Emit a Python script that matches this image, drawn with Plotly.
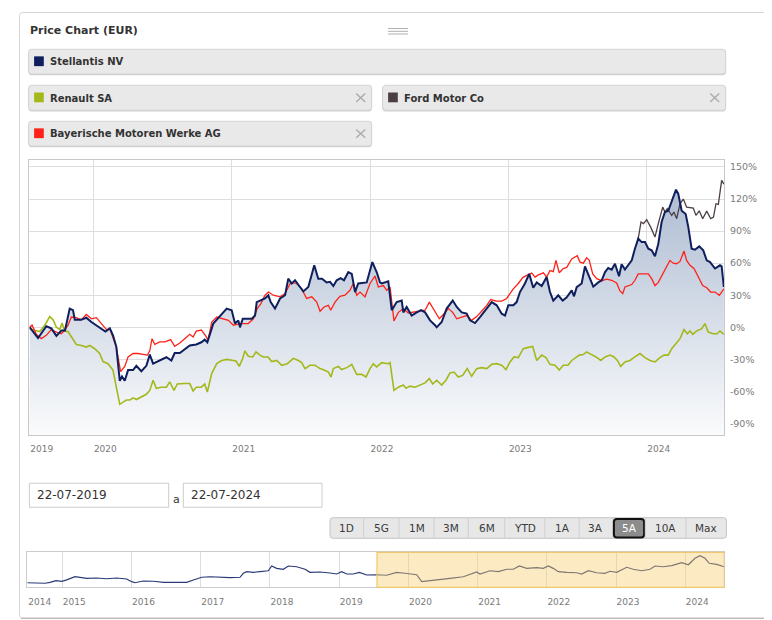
import plotly.graph_objects as go

# ---------------- data ----------------
x_ticks = [2019.54, 2020, 2021, 2022, 2023, 2024]
x_tick_labels = ["2019", "2020", "2021", "2022", "2023", "2024"]
y_ticks = [-90, -60, -30, 0, 30, 60, 90, 120, 150]
y_tick_labels = ["-90%", "-60%", "-30%", "0%", "30%", "60%", "90%", "120%", "150%"]
nav_ticks = [2014.5, 2015, 2016, 2017, 2018, 2019, 2020, 2021, 2022, 2023, 2024]
nav_tick_labels = ["2014", "2015", "2016", "2017", "2018", "2019", "2020", "2021", "2022", "2023", "2024"]

series_names = ["Stellantis NV", "Renault SA", "Ford Motor Co", "Bayerische Motoren Werke AG"]
series_colors = ["#0f1f5e", "#a4b81c", "#4c3f42", "#ff2218"]
range_buttons = ["1D", "5G", "1M", "3M", "6M", "YTD", "1A", "3A", "5A", "10A", "Max"]
date_from = "22-07-2019"
date_to = "22-07-2024"

stla_t = [2019.540, 2019.564, 2019.600, 2019.660, 2019.696, 2019.733, 2019.769, 2019.795, 2019.812, 2019.829,
          2019.853, 2019.866, 2019.911, 2019.949, 2019.986, 2020.022, 2020.058, 2020.087, 2020.119, 2020.142,
          2020.166, 2020.191, 2020.207, 2020.227, 2020.251, 2020.287, 2020.311, 2020.347, 2020.383, 2020.408,
          2020.432, 2020.480, 2020.528, 2020.564, 2020.588, 2020.625, 2020.648, 2020.697, 2020.744, 2020.781,
          2020.805, 2020.824, 2020.867, 2020.904, 2020.964, 2021.000, 2021.024, 2021.048, 2021.060, 2021.080,
          2021.145, 2021.169, 2021.181, 2021.205, 2021.241, 2021.265, 2021.282, 2021.313, 2021.350, 2021.386,
          2021.409, 2021.434, 2021.458, 2021.494, 2021.518, 2021.554, 2021.597, 2021.626, 2021.653, 2021.687,
          2021.711, 2021.735, 2021.759, 2021.788, 2021.812, 2021.843, 2021.868, 2021.892, 2021.915, 2021.976,
          2022.017, 2022.048, 2022.072, 2022.085, 2022.132, 2022.157, 2022.193, 2022.229, 2022.241, 2022.265,
          2022.301, 2022.338, 2022.369, 2022.398, 2022.434, 2022.470, 2022.482, 2022.518, 2022.554, 2022.598,
          2022.627, 2022.663, 2022.699, 2022.723, 2022.759, 2022.795, 2022.844, 2022.880, 2022.916, 2022.952,
          2022.976, 2023.000, 2023.036, 2023.060, 2023.084, 2023.120, 2023.151, 2023.180, 2023.205, 2023.241,
          2023.277, 2023.301, 2023.325, 2023.361, 2023.393, 2023.422, 2023.458, 2023.475, 2023.494, 2023.530,
          2023.554, 2023.590, 2023.614, 2023.650, 2023.675, 2023.699, 2023.722, 2023.747, 2023.771, 2023.800,
          2023.819, 2023.843, 2023.867, 2023.892, 2023.915, 2023.939, 2023.964, 2023.988, 2024.012, 2024.036,
          2024.060, 2024.084, 2024.108, 2024.132, 2024.156, 2024.181, 2024.212, 2024.228, 2024.253, 2024.282,
          2024.301, 2024.325, 2024.349, 2024.380, 2024.409, 2024.434, 2024.458, 2024.494, 2024.530, 2024.542,
          2024.558]
stla_v = [0, -4, -10, 1, -1, -8, -3, -3, 6.5, 17.5,
          16, 7, 7, 9, 5, 2, -1, -4, -1, -7.5,
          -18, -50, -46, -50, -40, -40, -36, -41, -36, -25.5,
          -34, -31, -28, -31, -24, -24, -21.5, -17, -16, -14,
          -11.5, -14, 3.5, 8.7, 17.5, 16, 3.5, 6.5, 0, 8,
          8, 11, 23.6, 25, 27, 30, 23.6, 17.5, 27, 30,
          45.5, 41, 44, 37.7, 33.6, 37.7, 58, 45.5, 45.5, 42,
          42.5, 38.6, 44, 46, 44, 51.7, 50, 33, 41, 42,
          61, 51.7, 42, 41, 43, 16, 23.6, 25, 14, 19,
          11, 14, 16, 14, 6.5, 2, 0, 5, 17.5, 25,
          19, 14, 12.8, 6.5, 4, 9.6, 17.5, 23.6, 20.6, 12.8,
          11, 20.6, 20.6, 23.6, 33, 41, 50, 37, 42, 38.6,
          47, 33, 25, 30, 25, 28, 34.6, 29, 37.5, 41,
          57, 45.5, 38, 42, 44, 51.7, 55.5, 54, 59.5, 47.7,
          59, 54, 58, 62.6, 73.5, 83, 79.7, 79.7, 73.5, 72,
          66.4, 78, 98.5, 107.8, 109, 117, 128.7, 125, 109, 106,
          93.7, 73.5, 72.6, 75.7, 72, 62.6, 61, 55, 58, 57,
          37.7]

ren_t = [2019.540, 2019.576, 2019.613, 2019.649, 2019.685, 2019.709, 2019.733, 2019.757, 2019.774, 2019.793,
         2019.817, 2019.853, 2019.877, 2019.913, 2019.949, 2019.974, 2020.010, 2020.046, 2020.070, 2020.106,
         2020.142, 2020.166, 2020.191, 2020.215, 2020.239, 2020.265, 2020.287, 2020.311, 2020.347, 2020.383,
         2020.408, 2020.432, 2020.455, 2020.492, 2020.528, 2020.552, 2020.583, 2020.607, 2020.661, 2020.697,
         2020.721, 2020.744, 2020.781, 2020.805, 2020.824, 2020.856, 2020.892, 2020.928, 2020.964, 2021.000,
         2021.031, 2021.055, 2021.080, 2021.096, 2021.120, 2021.152, 2021.176, 2021.205, 2021.229, 2021.263,
         2021.289, 2021.326, 2021.362, 2021.402, 2021.446, 2021.482, 2021.506, 2021.530, 2021.566, 2021.602,
         2021.639, 2021.668, 2021.699, 2021.718, 2021.735, 2021.771, 2021.795, 2021.832, 2021.868, 2021.904,
         2021.940, 2021.971, 2022.000, 2022.024, 2022.048, 2022.085, 2022.132, 2022.145, 2022.173, 2022.205,
         2022.241, 2022.260, 2022.289, 2022.325, 2022.361, 2022.398, 2022.429, 2022.453, 2022.482, 2022.518,
         2022.549, 2022.578, 2022.607, 2022.638, 2022.670, 2022.703, 2022.735, 2022.771, 2022.807, 2022.844,
         2022.880, 2022.916, 2022.952, 2022.983, 2023.012, 2023.041, 2023.072, 2023.108, 2023.137, 2023.176,
         2023.205, 2023.241, 2023.272, 2023.301, 2023.337, 2023.368, 2023.397, 2023.431, 2023.458, 2023.482,
         2023.513, 2023.542, 2023.566, 2023.602, 2023.634, 2023.668, 2023.699, 2023.735, 2023.764, 2023.788,
         2023.812, 2023.843, 2023.879, 2023.915, 2023.952, 2023.988, 2024.024, 2024.060, 2024.096, 2024.125,
         2024.156, 2024.181, 2024.217, 2024.241, 2024.270, 2024.294, 2024.313, 2024.333, 2024.361, 2024.398,
         2024.421, 2024.445, 2024.481, 2024.508, 2024.530, 2024.558]
ren_v = [-1, -3, -4, 2, 10, 7, 0, -2, 4, -3.5,
         -4, -12, -16, -17, -18.5, -17, -20, -24.5, -32, -34,
         -40, -56, -72, -70, -68, -68, -66, -67.5, -65, -62.6,
         -59, -49.5, -57, -56, -56, -51, -59, -53, -52.6, -52.6,
         -59.5, -56, -56, -53, -60.5, -43, -34, -31, -30, -31,
         -31.5, -36.5, -29, -22, -27, -27.7, -23, -26, -27.7, -27.7,
         -32, -31, -35.5, -34, -29, -31, -33, -38.6, -35.5, -35.5,
         -38.6, -40, -41.8, -46.5, -38.6, -36.5, -39.5, -37.7, -34.6, -44,
         -44, -46.5, -38.6, -34, -37, -33, -34, -33, -59, -56,
         -54, -57, -55, -56, -54, -52, -48, -53, -49.5, -54,
         -49.5, -42.7, -41.8, -46.5, -45, -38.6, -45.8, -38.6, -37.7, -38.6,
         -34.6, -34, -35.5, -39.5, -32.4, -27.7, -28.3, -20, -19, -17.8,
         -31, -26, -28.3, -34.6, -35.5, -40, -35.5, -35.5, -31, -29,
         -26, -25.5, -23, -25.5, -27.7, -31, -27.7, -26, -27.7, -31,
         -36.5, -32.4, -31, -27.7, -24.5, -28.3, -31, -32.4, -28.3, -26,
         -26, -20, -13.7, -10.6, -2, -6, -3.4, -6.5, -3.4, -1.2,
         3.5, -4.4, -6, -6, -3.4, -6.5]

bmw_t = [2019.540, 2019.557, 2019.588, 2019.624, 2019.660, 2019.696, 2019.733, 2019.769, 2019.793, 2019.817,
         2019.841, 2019.877, 2019.913, 2019.949, 2019.986, 2020.022, 2020.058, 2020.094, 2020.121, 2020.142,
         2020.166, 2020.197, 2020.227, 2020.251, 2020.287, 2020.323, 2020.359, 2020.390, 2020.408, 2020.424,
         2020.444, 2020.480, 2020.518, 2020.559, 2020.588, 2020.625, 2020.661, 2020.697, 2020.721, 2020.744,
         2020.781, 2020.810, 2020.829, 2020.856, 2020.892, 2020.940, 2020.976, 2021.012, 2021.060, 2021.120,
         2021.157, 2021.185, 2021.210, 2021.241, 2021.265, 2021.301, 2021.350, 2021.386, 2021.427, 2021.470,
         2021.506, 2021.542, 2021.579, 2021.615, 2021.639, 2021.668, 2021.699, 2021.716, 2021.747, 2021.783,
         2021.819, 2021.855, 2021.879, 2021.904, 2021.928, 2021.964, 2022.000, 2022.036, 2022.060, 2022.096,
         2022.121, 2022.145, 2022.173, 2022.205, 2022.241, 2022.277, 2022.313, 2022.349, 2022.398, 2022.429,
         2022.458, 2022.501, 2022.530, 2022.566, 2022.598, 2022.627, 2022.663, 2022.699, 2022.735, 2022.771,
         2022.807, 2022.844, 2022.872, 2022.911, 2022.952, 2022.988, 2023.012, 2023.036, 2023.072, 2023.104,
         2023.133, 2023.169, 2023.193, 2023.217, 2023.253, 2023.277, 2023.301, 2023.325, 2023.344, 2023.368,
         2023.397, 2023.422, 2023.458, 2023.482, 2023.498, 2023.518, 2023.542, 2023.566, 2023.585, 2023.610,
         2023.639, 2023.675, 2023.711, 2023.747, 2023.783, 2023.807, 2023.827, 2023.843, 2023.867, 2023.892,
         2023.915, 2023.939, 2023.976, 2024.012, 2024.036, 2024.060, 2024.084, 2024.116, 2024.140, 2024.168,
         2024.192, 2024.217, 2024.241, 2024.270, 2024.289, 2024.313, 2024.342, 2024.373, 2024.405, 2024.434,
         2024.463, 2024.494, 2024.525, 2024.542, 2024.558]
bmw_v = [0, 2, -6.5, -10.6, -7.5, -2, -4.4, -6, -2.5, 2,
         9.6, 9, 7, 12, 8, 9, 3.5, -2, -2, -9,
         -18.5, -41.5, -36.5, -27.7, -24.5, -24.5, -25, -26, -22, -10.6,
         -16, -13.7, -13.7, -11.5, -17.8, -14.7, -10.6, -6.5, -9, -3.5,
         -2.5, -7.5, -12, 5, 9.6, 8, 6.5, 2, 3.5, 3.5,
         8, 17.5, 22, 30, 33, 30, 28.5, 31.5, 42, 41,
         36, 27, 28.5, 23.6, 15, 19, 20.6, 16, 23.6, 29,
         30, 34.6, 41, 30, 33, 28.5, 41, 48, 37.7, 39,
         34.6, 37.7, 6, 14, 17.5, 13.4, 14, 15, 16, 23.6,
         17.5, 8, 12, 17.5, 14, 8, 9.6, 11, 6.5, 10,
         15, 20.6, 26, 24.5, 24.5, 27, 31.5, 36, 41, 46.5,
         48.6, 50.8, 47, 49, 51, 47, 53, 52, 62.6, 51,
         55, 56, 64, 65.6, 67, 61, 60, 65, 62.6, 50,
         45.5, 43.6, 45, 44, 41.4, 34, 31.5, 37.7, 39, 40,
         44, 50, 50, 50, 45.5, 39, 42, 49.5, 55, 62.6,
         60, 59.5, 61.6, 71.3, 62.6, 58, 55, 47, 39, 37,
         33, 33, 30, 33, 36]

ford_t = [2023.939, 2023.959, 2023.977, 2024.000, 2024.029, 2024.060, 2024.084, 2024.116, 2024.132, 2024.149,
          2024.181, 2024.197, 2024.217, 2024.241, 2024.265, 2024.289, 2024.337, 2024.356, 2024.380, 2024.405,
          2024.434, 2024.463, 2024.483, 2024.501, 2024.518, 2024.542, 2024.558]
ford_v = [83, 98.5, 97, 100.6, 93.7, 84.4, 97, 112.4, 107.8, 111,
          104.7, 107.8, 101.6, 115.6, 120, 112.4, 111.5, 104.7, 109, 101.6,
          108.7, 101.6, 103, 115.6, 115, 137.4, 134]

# navigator: Stellantis price history (EUR), 10 years
nav_t = [2014.494, 2014.630, 2014.750, 2014.822, 2014.909, 2014.991, 2015.064, 2015.183, 2015.256, 2015.353,
         2015.497, 2015.641, 2015.786, 2015.930, 2016.003, 2016.050, 2016.170, 2016.315, 2016.459, 2016.653,
         2016.797, 2016.893, 2017.014, 2017.134, 2017.278, 2017.423, 2017.567, 2017.615, 2017.664, 2017.759,
         2017.856, 2017.976, 2018.025, 2018.097, 2018.193, 2018.265, 2018.386, 2018.506, 2018.579, 2018.723,
         2018.867, 2018.964, 2019.036, 2019.109, 2019.204, 2019.291, 2019.398, 2019.546, 2019.687, 2019.831,
         2019.951, 2020.120, 2020.192, 2020.265, 2020.432, 2020.601, 2020.793, 2020.890, 2020.987, 2021.034,
         2021.179, 2021.299, 2021.420, 2021.516, 2021.602, 2021.709, 2021.854, 2021.949, 2022.021, 2022.093,
         2022.166, 2022.287, 2022.432, 2022.504, 2022.599, 2022.721, 2022.840, 2022.913, 2023.009, 2023.154,
         2023.249, 2023.371, 2023.490, 2023.563, 2023.683, 2023.804, 2023.949, 2024.044, 2024.141, 2024.213,
         2024.285, 2024.347, 2024.454, 2024.560]
nav_v = [6.2, 5.8, 5.8, 6.5, 7.7, 7.3, 8.3, 10.7, 10.3, 9.5,
         9.75, 9.2, 9.75, 9.0, 7.0, 6.2, 7.5, 7.3, 6.5, 6.2,
         6.5, 8.25, 10.3, 10.7, 10.3, 10.0, 10.3, 13.3, 14.5, 14.0,
         14.5, 15.2, 18.75, 17.0, 16.3, 18.75, 18.2, 16.3, 14.0, 14.25,
         13.5, 12.75, 14.5, 12.75, 12.75, 14.0, 12.0, 12.2, 11.8, 13.9,
         13.3, 12.2, 7.0, 7.5, 8.8, 9.5, 10.7, 12.75, 14.25, 12.75,
         15.2, 14.5, 16.3, 16.3, 18.75, 17.0, 17.5, 17.0, 18.75, 17.0,
         14.5, 14.0, 13.7, 12.75, 15.2, 13.7, 13.3, 14.8, 14.0, 17.8,
         16.3, 15.2, 16.3, 18.75, 18.2, 19.0, 21.2, 19.7, 24.5, 26.5,
         24.5, 20.8, 20.0, 18.2]

# ---------------- layout helpers (page pixel -> paper) ----------------
# the page body has an 8px margin, so the figure starts at page (8, 8)
OFF = 8
W, H = 772 - OFF, 620 - OFF


def PX(x):
    return (x - OFF) / W


def PY(y):
    return 1 - (y - OFF) / H


def rrect_path(x0, y0, x1, y1, r):
    rx, ry = r / W, r / H
    X0, X1, YT, YB = PX(x0), PX(x1), PY(y0), PY(y1)
    return (f"M {X0+rx},{YT} L {X1-rx},{YT} Q {X1},{YT} {X1},{YT-ry} "
            f"L {X1},{YB+ry} Q {X1},{YB} {X1-rx},{YB} L {X0+rx},{YB} "
            f"Q {X0},{YB} {X0},{YB+ry} L {X0},{YT-ry} Q {X0},{YT} {X0+rx},{YT} Z")


FONT = "DejaVu Sans, Verdana, sans-serif"
Y_MIN, Y_MAX = -100.7, 156.2
X_MIN, X_MAX = 2019.537, 2024.559

fig = go.Figure()

# baseline for the area fill (bottom of the plot)
fig.add_trace(go.Scatter(x=[X_MIN, X_MAX], y=[Y_MIN, Y_MIN], mode="lines",
                         line=dict(width=0, color="rgba(0,0,0,0)"), hoverinfo="skip",
                         showlegend=False, xaxis="x", yaxis="y"))
fig.add_trace(go.Scatter(x=stla_t, y=stla_v, mode="lines", fill="tonexty",
                         fillgradient=dict(type="vertical", start=Y_MIN, stop=130,
                                           colorscale=[[0, "rgba(250,251,252,1)"],
                                                       [1, "rgba(174,188,210,1)"]]),
                         line=dict(width=0, color="rgba(0,0,0,0)"), hoverinfo="skip",
                         showlegend=False, xaxis="x", yaxis="y"))
fig.add_trace(go.Scatter(x=ren_t, y=ren_v, mode="lines", name=series_names[1],
                         line=dict(color=series_colors[1], width=1.6), showlegend=False))
fig.add_trace(go.Scatter(x=ford_t, y=ford_v, mode="lines", name=series_names[2],
                         line=dict(color=series_colors[2], width=1.3), showlegend=False))
fig.add_trace(go.Scatter(x=bmw_t, y=bmw_v, mode="lines", name=series_names[3],
                         line=dict(color=series_colors[3], width=1.3), showlegend=False))
fig.add_trace(go.Scatter(x=stla_t, y=stla_v, mode="lines", name=series_names[0],
                         line=dict(color=series_colors[0], width=2), showlegend=False))

# navigator
fig.add_trace(go.Scatter(x=nav_t, y=nav_v, mode="lines", line=dict(color="#2a3a78", width=1.2),
                         showlegend=False, hoverinfo="skip", xaxis="x2", yaxis="y2"))

axis_font = dict(family=FONT, size=9, color="#7a7a7a")
fig.update_layout(
    width=W, height=H, margin=dict(l=0, r=0, t=0, b=0),
    paper_bgcolor="white", plot_bgcolor="white", showlegend=False,
    xaxis=dict(domain=[PX(29.3), PX(724)], range=[X_MIN, X_MAX], anchor="y",
               tickmode="array", tickvals=x_ticks, ticktext=x_tick_labels,
               showgrid=True, gridcolor="#dedede", gridwidth=1, zeroline=False,
               showline=True, mirror=True, linecolor="#c8c8c8", linewidth=1,
               ticks="", tickfont=axis_font, ticklabelshift=12, ticklabelstandoff=5,
               fixedrange=True),
    yaxis=dict(domain=[PY(435), PY(160.3)], range=[Y_MIN, Y_MAX], anchor="x", side="right",
               tickmode="array", tickvals=y_ticks, ticktext=y_tick_labels,
               showgrid=True, gridcolor="#dedede", gridwidth=1, zeroline=False,
               showline=True, mirror=True, linecolor="#c8c8c8", linewidth=1,
               ticks="", tickfont=dict(family=FONT, size=9.5, color="#7a7a7a"),
               ticklabelstandoff=3, fixedrange=True),
    xaxis2=dict(domain=[PX(27.3), PX(724.3)], range=[2014.494, 2024.564], anchor="y2",
                tickmode="array", tickvals=nav_ticks, ticktext=nav_tick_labels,
                showgrid=True, gridcolor="#dddddd", zeroline=False,
                showline=True, mirror=True, linecolor="#cccccc",
                ticks="", tickfont=axis_font, ticklabelshift=12, ticklabelstandoff=6,
                fixedrange=True),
    yaxis2=dict(domain=[PY(587.3), PY(552.3)], range=[2.775, 29.03], anchor="x2",
                showgrid=False, zeroline=False, showticklabels=False,
                showline=True, mirror=True, linecolor="#cccccc", fixedrange=True),
)

shapes = []
annotations = []

# outer panel
shapes.append(dict(type="path", xref="paper", yref="paper",
                   path=rrect_path(19.5, 12.5, 790, 618, 3), line=dict(color="#d6d6d6", width=1),
                   fillcolor="rgba(0,0,0,0)", layer="below"))
shapes.append(dict(type="line", xref="paper", yref="paper", x0=PX(21), x1=1, y0=PY(618.3), y1=PY(618.3),
                   line=dict(color="#bdbdbd", width=1.2)))

# drag handle
for yy in (28.5, 31.3, 34.0):
    shapes.append(dict(type="line", xref="paper", yref="paper", x0=PX(388), x1=PX(408),
                       y0=PY(yy), y1=PY(yy), line=dict(color="#b0b0b0", width=1)))

# title
annotations.append(dict(text="<b>Price Chart (EUR)</b>", xref="paper", yref="paper",
                        x=PX(28), y=PY(31), xanchor="left", yanchor="middle", showarrow=False,
                        font=dict(family=FONT, size=11, color="#333333")))

# legend boxes: (x0, y0, x1, y1, series index, closable)
legend_boxes = [(28.6, 49.3, 725.7, 74.0, 0, False),
                (28.6, 85.3, 371.7, 110.3, 1, True),
                (382.6, 85.3, 725.7, 110.3, 2, True),
                (28.6, 121.3, 371.7, 146.0, 3, True)]
for (bx0, by0, bx1, by1, si, closable) in legend_boxes:
    shapes.append(dict(type="path", xref="paper", yref="paper",
                       path=rrect_path(bx0, by0 + 1.2, bx1, by1 + 1.2, 3),
                       line=dict(width=0), fillcolor="#cfcfcf", layer="below"))
    shapes.append(dict(type="path", xref="paper", yref="paper",
                       path=rrect_path(bx0, by0, bx1, by1, 3),
                       line=dict(color="#d2d2d2", width=1), fillcolor="#e9e9e9", layer="below"))
    cy = (by0 + by1) / 2
    shapes.append(dict(type="rect", xref="paper", yref="paper",
                       x0=PX(bx0 + 5.5), x1=PX(bx0 + 15.2), y0=PY(cy - 5.3), y1=PY(cy + 4.5),
                       line=dict(width=0), fillcolor=series_colors[si]))
    annotations.append(dict(text=f"<b>{series_names[si]}</b>", xref="paper", yref="paper",
                            x=PX(bx0 + 19.6), y=PY(cy + 0.3), xanchor="left", yanchor="middle",
                            showarrow=False, font=dict(family=FONT, size=10, color="#333333")))
    if closable:
        cx0, cx1 = bx1 - 15.5, bx1 - 6.5
        shapes.append(dict(type="line", xref="paper", yref="paper", x0=PX(cx0), x1=PX(cx1),
                           y0=PY(cy - 4.2), y1=PY(cy + 4.2), line=dict(color="#ababab", width=1.4)))
        shapes.append(dict(type="line", xref="paper", yref="paper", x0=PX(cx0), x1=PX(cx1),
                           y0=PY(cy + 4.2), y1=PY(cy - 4.2), line=dict(color="#ababab", width=1.4)))

# date inputs
for (ix0, ix1, txt) in [(29.4, 168.7, date_from), (183.3, 322.0, date_to)]:
    shapes.append(dict(type="rect", xref="paper", yref="paper", x0=PX(ix0), x1=PX(ix1),
                       y0=PY(507.3), y1=PY(483.3), line=dict(color="#cccccc", width=1),
                       fillcolor="white"))
    annotations.append(dict(text=txt, xref="paper", yref="paper", x=PX(ix0 + 6), y=PY(495.5),
                            xanchor="left", yanchor="middle", showarrow=False,
                            font=dict(family=FONT, size=12, color="#333333")))
annotations.append(dict(text="a", xref="paper", yref="paper", x=PX(176.5), y=PY(499.5),
                        xanchor="center", yanchor="middle", showarrow=False,
                        font=dict(family=FONT, size=11, color="#333333")))

# range selector buttons
btn_edges = [330, 363.6, 399, 434, 468.3, 504.7, 544.8, 579.2, 612.7, 645.3, 685.9, 726.5]
shapes.append(dict(type="path", xref="paper", yref="paper",
                   path=rrect_path(btn_edges[0], 517.7, btn_edges[-1], 538.3, 3),
                   line=dict(color="#c4c4c4", width=1), fillcolor="#e7e7e7"))
for i, lab in enumerate(range_buttons):
    bx0, bx1 = btn_edges[i], btn_edges[i + 1]
    if i > 0:
        shapes.append(dict(type="line", xref="paper", yref="paper", x0=PX(bx0), x1=PX(bx0),
                           y0=PY(518.2), y1=PY(537.8), line=dict(color="#cfcfcf", width=1)))
    selected = lab == "5A"
    if selected:
        shapes.append(dict(type="path", xref="paper", yref="paper",
                           path=rrect_path(bx0 + 1.2, 519.0, bx1 - 1.2, 537.5, 3),
                           line=dict(color="#111111", width=2), fillcolor="#8c8c8c"))
    annotations.append(dict(text=lab, xref="paper", yref="paper", x=PX((bx0 + bx1) / 2), y=PY(528.3),
                            xanchor="center", yanchor="middle", showarrow=False,
                            font=dict(family=FONT, size=10.5,
                                      color="white" if selected else "#3a3a3a")))

# navigator selection window
shapes.append(dict(type="rect", xref="x2", yref="y2 domain", x0=2019.546, x1=2024.564, y0=0, y1=1,
                   line=dict(color="#efc86e", width=1.2), fillcolor="rgba(247,205,110,0.42)",
                   layer="above"))

fig.update_layout(shapes=shapes, annotations=annotations)
fig.write_html("out.html")
